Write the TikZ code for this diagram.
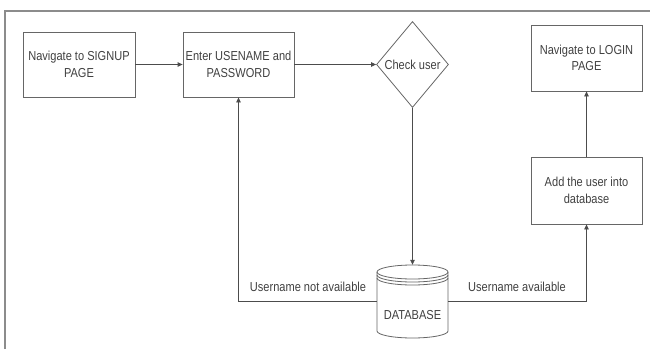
\documentclass[tikz,border=0pt]{standalone}
\usepackage{fontspec}
\setmainfont{Liberation Sans}[FakeStretch=0.85]
\usetikzlibrary{shapes.geometric}
\usetikzlibrary{arrows.meta}

\begin{document}
\begin{tikzpicture}
[x=1pt,y=1pt,%
  box/.style={shape=rectangle,draw=black!60,thick,text=black!75,align=center,inner sep=0pt},%
  decision/.style={shape=diamond,draw=black!60,thick,text=black!75,inner sep=0pt,minimum width=72pt,minimum height=86pt},%
  flow/.style={-{Triangle[length=5pt,width=4.5pt]},draw=black!70,thick},%
  lbl/.style={text=black!75,inner sep=0pt}]
\fontsize{13}{16.5}\selectfont
\useasboundingbox (0,0) rectangle (650,349);
% frame
\draw[black!45,line width=2pt] (5,0) -- (5,338) -- (650,338);
% steps
\node[box,minimum width=112pt,minimum height=65pt] (signup) at (79,284.5) {Navigate to SIGNUP\\PAGE};
\node[box,minimum width=111pt,minimum height=65pt] (enter) at (238.5,284.5) {Enter USENAME and\\PASSWORD};
\node[decision] (check) at (412.5,284.5) {Check user};
\node[box,minimum width=111pt,minimum height=66pt] (login) at (586.5,291) {Navigate to LOGIN\\PAGE};
\node[box,minimum width=111pt,minimum height=67pt] (adduser) at (586.5,158.5) {Add the user into\\database};
% database
\node[minimum width=71pt,minimum height=73pt,inner sep=0pt] (db) at (412.5,47.5) {};
\draw[black!60,thick,fill=white] (377,77) -- (377,18) arc (180:360:35.5 and 7) -- (448,77);
\draw[black!60,thick] (412.5,77) ellipse (35.5 and 7);
\draw[black!60,thick] (377,74) arc (180:360:35.5 and 7);
\draw[black!60,thick] (377,71) arc (180:360:35.5 and 7);
\node[lbl] (dbtext) at (412.5,34) {DATABASE};
% connectors
\draw[flow] (signup) -- (enter);
\draw[flow] (enter) -- (check);
\draw[flow] (check.south) -- (db.north);
\draw[flow] (db.west) -| (enter.south);
\draw[flow] (db.east) -| (adduser.south);
\draw[flow] (adduser) -- (login);
\node[lbl] (notavail) at (308,62) {Username not available};
\node[lbl] (avail) at (517,62) {Username available};
\end{tikzpicture}
\end{document}
